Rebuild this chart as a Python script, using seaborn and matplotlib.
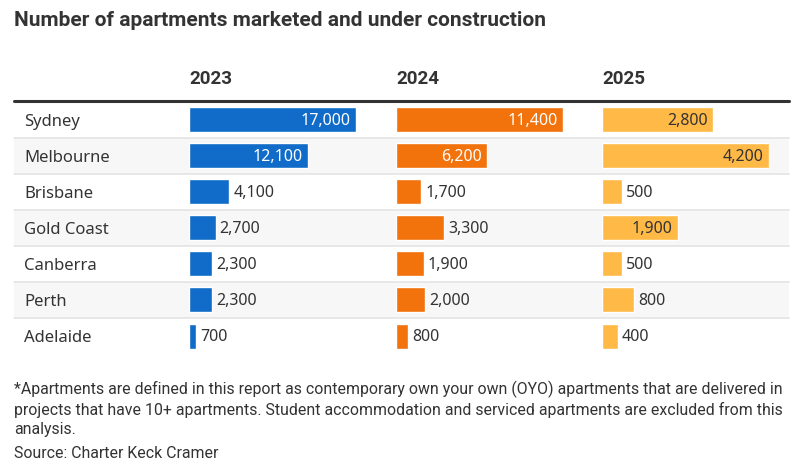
import numpy as np
import pandas as pd
import matplotlib.pyplot as plt
import seaborn as sns

# data
cities = ["Sydney", "Melbourne", "Brisbane", "Gold Coast", "Canberra", "Perth", "Adelaide"]
years = ["2023", "2024", "2025"]
vals_2023 = [17000, 12100, 4100, 2700, 2300, 2300, 700]
vals_2024 = [11400, 6200, 1700, 3300, 1900, 2000, 800]
vals_2025 = [2800, 4200, 500, 1900, 500, 800, 400]

title = "Number of apartments marketed and under construction"
note = ("*Apartments are defined in this report as contemporary own your own (OYO) apartments that are delivered in\n"
        "projects that have 10+ apartments. Student accommodation and serviced apartments are excluded from this\n"
        "analysis.")
source = "Source: Charter Keck Cramer"

colors = ["#106cc8", "#f2720c", "#ffb946"]
inside_text = ["white", "white", "#333333"]
txt = "#333333"

sns.set_theme(style="white")
plt.rcParams["font.family"] = ["Noto Sans", "DejaVu Sans"]
bold_font = ["Roboto", "DejaVu Sans"]
narrow_font = ["Roboto", "DejaVu Sans"]

W, H = 799, 465
fig = plt.figure(figsize=(W / 100, H / 100), dpi=100)

# background axis in pixel coordinates for shading, rules and text
bg = fig.add_axes([0, 0, 1, 1])
bg.set_xlim(0, W)
bg.set_ylim(H, 0)
bg.axis("off")

row_top = 102
row_h = 36
left, right = 14, 789
for i in range(len(cities)):
    y0 = row_top + i * row_h
    if i % 2 == 1:
        bg.fill_between([left, right], y0, y0 + row_h, color="#f7f7f7", lw=0)
    if i < len(cities) - 1:
        bg.plot([left, right], [y0 + row_h, y0 + row_h], color="#e4e4e4", lw=1.2)
    bg.text(24, y0 + row_h / 2 + 1.5, cities[i], fontsize=12, color=txt, va="center", ha="left")
bg.plot([left, right], [row_top - 1, row_top - 1], color="#333333", lw=2.2)

bg.text(14, 20, title, fontsize=15, fontweight="bold", color=txt, va="center", ha="left",
        family=bold_font)

col_x = [189, 396, 602]
bar_px = 167
for x0, yr in zip(col_x, years):
    bg.text(x0, 79, yr, fontsize=13.5, fontweight="bold", color=txt, va="center", ha="left",
            family=bold_font)

bg.text(14, 381, note, fontsize=11.45, color=txt, va="top", ha="left", linespacing=1.3,
        family=narrow_font)
bg.text(14, 453, source, fontsize=11.45, color=txt, va="center", ha="left",
        family=narrow_font)

# one bar axis per year, each scaled to its own maximum
series = [vals_2023, vals_2024, vals_2025]
table_h = row_h * len(cities)
for k, (x0, vals) in enumerate(zip(col_x, series)):
    ax = fig.add_axes([x0 / W, (H - row_top - table_h) / H, bar_px / W, table_h / H])
    df = pd.DataFrame({"city": cities, "value": vals})
    sns.barplot(data=df, x="value", y="city", orient="h", color=colors[k],
                width=25 / 36, saturation=1, ax=ax)
    vmax = max(vals)
    ax.set_xlim(0, vmax)
    ax.set_ylim(len(cities) - 0.5, -0.5)
    ax.axis("off")
    ax.patch.set_alpha(0)
    for i, v in enumerate(vals):
        label = f"{v:,}"
        if v / vmax > 0.4:
            ax.text(v - vmax * 0.03, i + 0.04, label, color=inside_text[k], fontsize=11.5,
                    va="center", ha="right")
        else:
            ax.text(v + vmax * 0.025, i + 0.04, label, color=txt, fontsize=11.5,
                    va="center", ha="left", clip_on=False)

fig.savefig("out.png", dpi=100)
